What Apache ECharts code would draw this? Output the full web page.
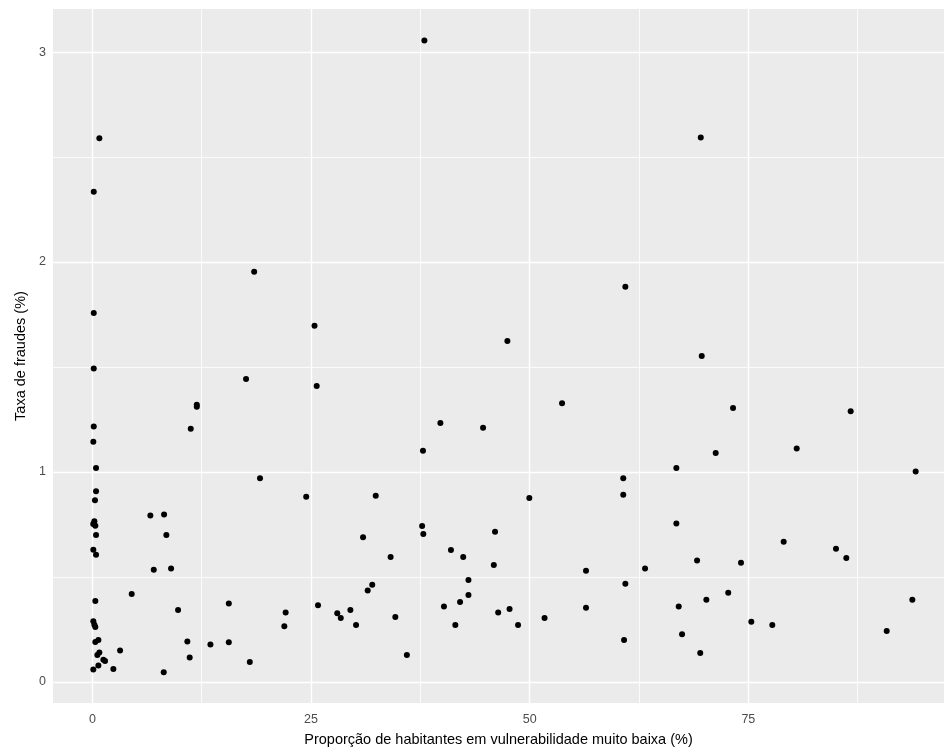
<!DOCTYPE html>
<html>
<head>
<meta charset="utf-8">
<script src="https://cdn.jsdelivr.net/npm/echarts@6/dist/echarts.min.js"></script>
<style>
html,body{margin:0;padding:0;background:#fff;}
#chart{width:944px;height:756px;}
</style>
</head>
<body>
<div id="chart"></div>
<script>
// Proporção de habitantes em vulnerabilidade muito baixa (%)
const xValues = [
  0.8, 0.16, 0.16, 0.16, 0.16, 0.11, 0.42, 0.42, 0.3, 0.23,
  0.1, 0.34, 0.42, 0.11, 0.42, 0.34, 0.11, 0.23, 0.34, 0.34,
  0.69, 0.57, 0.8, 1.26, 1.45, 0.69, 0.11, 2.4, 3.17, 4.5,
  6.63, 8.2, 8.46, 7.02, 9.0, 9.8, 15.6, 10.86, 11.13, 13.5,
  15.6, 18.0, 8.16, 22.1, 21.95, 25.8, 18.5, 25.4, 17.57, 25.65,
  11.94, 11.94, 11.25, 19.17, 24.45, 37.96, 47.45, 53.7, 39.79, 44.67,
  37.8, 32.4, 49.96, 28.0, 28.4, 29.5, 30.15, 30.95, 31.48, 32.0,
  34.1, 34.64, 35.96, 37.7, 37.84, 40.2, 41.0, 41.5, 42.04, 42.4,
  43.0, 43.0, 45.9, 46.04, 46.4, 47.7, 48.67, 51.7, 56.44, 56.44,
  69.56, 60.94, 69.67, 73.25, 86.7, 80.53, 71.27, 66.77, 60.7, 60.7,
  94.13, 66.77, 63.19, 60.94, 60.79, 69.14, 67.04, 67.42, 69.5, 70.2,
  72.7, 74.16, 75.34, 77.74, 79.04, 85.02, 86.2, 93.75, 90.82
];
// Taxa de fraudes (%)
const yValues = [
  2.59, 2.335, 1.757, 1.493, 1.217, 1.144, 1.019, 0.909, 0.865, 0.765,
  0.752, 0.744, 0.70, 0.63, 0.606, 0.386, 0.289, 0.273, 0.262, 0.19,
  0.2, 0.129, 0.141, 0.106, 0.10, 0.079, 0.059, 0.062, 0.15, 0.419,
  0.793, 0.798, 0.70, 0.535, 0.54, 0.343, 0.374, 0.193, 0.117, 0.178,
  0.189, 0.095, 0.046, 0.331, 0.265, 0.365, 1.954, 1.697, 1.443, 1.41,
  1.32, 1.311, 1.206, 0.97, 0.882, 3.055, 1.624, 1.327, 1.233, 1.211,
  1.101, 0.887, 0.876, 0.327, 0.305, 0.343, 0.271, 0.689, 0.436, 0.463,
  0.595, 0.31, 0.128, 0.743, 0.705, 0.359, 0.629, 0.271, 0.381, 0.595,
  0.486, 0.414, 0.557, 0.716, 0.331, 0.348, 0.271, 0.305, 0.53, 0.354,
  2.593, 1.882, 1.552, 1.305, 1.289, 1.112, 1.09, 1.019, 0.97, 0.892,
  1.003, 0.755, 0.54, 0.468, 0.2, 0.579, 0.359, 0.227, 0.138, 0.392,
  0.425, 0.568, 0.287, 0.271, 0.668, 0.635, 0.59, 0.392, 0.243
];
const xTicks = [0, 25, 50, 75];
const yTicks = [0, 1, 2, 3];
const xMinorGrid = [12.5, 37.5, 62.5, 87.5];
const yMinorGrid = [0.5, 1.5, 2.5];
const xTitle = 'Proporção de habitantes em vulnerabilidade muito baixa (%)';
const yTitle = 'Taxa de fraudes (%)';

const points = xValues.map((x, i) => [x, yValues[i]]);
const FONT = "'Liberation Sans', Arial, sans-serif";

const gridLines = [];
xMinorGrid.forEach(v => gridLines.push({xAxis: v, lineStyle: {color: '#FFFFFF', width: 0.8, type: 'solid', opacity: 1}}));
yMinorGrid.forEach(v => gridLines.push({yAxis: v, lineStyle: {color: '#FFFFFF', width: 0.8, type: 'solid', opacity: 1}}));
xTicks.forEach(v => gridLines.push({xAxis: v, lineStyle: {color: '#FFFFFF', width: 1.4, type: 'solid', opacity: 1}}));
yTicks.forEach(v => gridLines.push({yAxis: v, lineStyle: {color: '#FFFFFF', width: 1.4, type: 'solid', opacity: 1}}));

const chart = echarts.init(document.getElementById('chart'), null, {renderer: 'canvas'});
chart.setOption({
  animation: false,
  backgroundColor: '#FFFFFF',
  grid: {
    left: 53, top: 9, width: 891, height: 694,
    show: true, backgroundColor: '#EBEBEB', borderWidth: 0
  },
  xAxis: {
    type: 'value', min: -4.5, max: 97.37,
    axisLine: {show: false},
    splitLine: {show: false},
    axisTick: {show: true, customValues: xTicks, length: 4, lineStyle: {color: '#333333', width: 1}},
    axisLabel: {customValues: xTicks, color: '#4D4D4D', fontSize: 12.5, fontFamily: FONT, margin: 10},
    name: xTitle, nameLocation: 'middle', nameGap: 29,
    nameTextStyle: {color: '#000000', fontSize: 14.5, fontFamily: FONT}
  },
  yAxis: {
    type: 'value', min: -0.1, max: 3.205,
    axisLine: {show: false},
    splitLine: {show: false},
    axisTick: {show: true, customValues: yTicks, length: 4, lineStyle: {color: '#333333', width: 1}},
    axisLabel: {customValues: yTicks, color: '#4D4D4D', fontSize: 12.5, fontFamily: FONT, margin: 7},
    name: yTitle, nameLocation: 'middle', nameGap: 25, nameRotate: 90,
    nameTextStyle: {color: '#000000', fontSize: 14.5, fontFamily: FONT}
  },
  series: [{
    type: 'scatter',
    data: points,
    symbol: 'circle',
    symbolSize: 6,
    z: 3,
    itemStyle: {color: '#000000', opacity: 1},
    silent: true,
    markLine: {
      silent: true, z: 1, symbol: 'none', animation: false,
      label: {show: false},
      emphasis: {disabled: true},
      data: gridLines
    }
  }]
});
</script>
</body>
</html>
